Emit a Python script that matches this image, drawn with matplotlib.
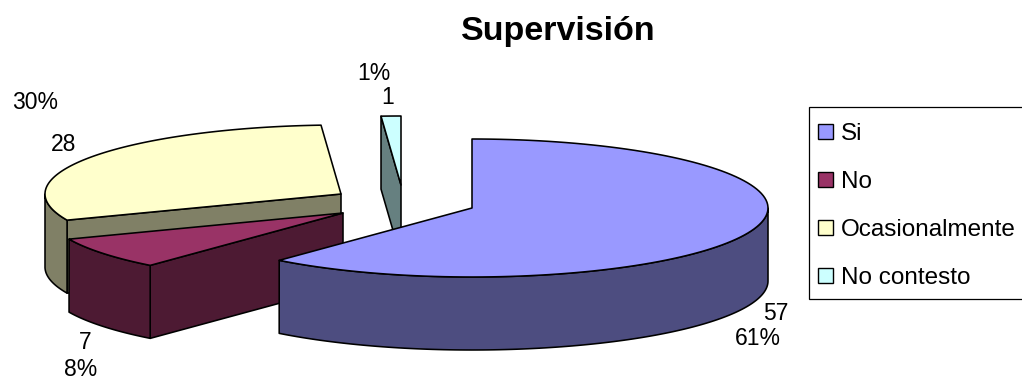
import numpy as np
import matplotlib
matplotlib.use("Agg")
import matplotlib.pyplot as plt
from matplotlib.patches import Polygon, Patch, Rectangle

categories = ["Si", "No", "Ocasionalmente", "No contesto"]
values = [57, 7, 28, 1]
top_colors = ["#9999FF", "#993366", "#FFFFCC", "#CCFFFF"]
side_colors = ["#4D4D80", "#4D1A33", "#808066", "#668080"]

# Layout of the exploded pie, in pixels
slice_centers = [(472, 208), (343, 213), (341, 194), (401, 185)]
count_label_pos = [(776, 313.5), (85, 342.5), (64, 144.5), (388, 97.5)]
percent_label_pos = [(758, 338.5), (81, 370), (35, 102.5), (374, 73.5)]
RX, RY, DEPTH = 296, 69, 73
LINE = 1.15

plt.rcParams["font.family"] = ["Liberation Sans", "DejaVu Sans"]
fig = plt.figure(figsize=(10.22, 3.81), dpi=100)
ax = fig.add_axes([0, 0, 1, 1])
ax.set_xlim(0, 1022)
ax.set_ylim(381, 0)
ax.axis("off")


def rim(center, a, b, n=120):
    """Points on the top rim between clockwise-from-north angles a and b (degrees)."""
    t = np.radians(np.linspace(a, b, n))
    return np.column_stack([center[0] + RX * np.sin(t), center[1] - RY * np.cos(t)])


def draw_slice(center, a, b, top, side, z):
    cx, cy = center
    down = np.array([0, DEPTH])
    kw = dict(edgecolor="black", linewidth=LINE, joinstyle="round", zorder=z)

    # Cut face at the start angle, visible when it turns toward the viewer
    if np.sin(np.radians(a)) < -1e-6:
        p = rim(center, a, a, 1)[0]
        ax.add_patch(Polygon([(cx, cy), p, p + down, (cx, cy + DEPTH)], facecolor=side, **kw))

    # Outer wall, only along the front half of the rim
    lo, hi = max(a, 90), min(b, 270)
    if hi > lo:
        edge = rim(center, lo, hi)
        ax.add_patch(Polygon(np.vstack([edge, edge[::-1] + down]), facecolor=side, **kw))

    # Top face
    ax.add_patch(Polygon(np.vstack([[center], rim(center, a, b)]), facecolor=top, **kw))


total = sum(values)
edges = np.concatenate([[0], np.cumsum(values)]) / total * 360

# Back slices first so the front ones overlap them
draw_order = [2, 3, 1, 0]
for z, i in enumerate(draw_order):
    draw_slice(slice_centers[i], edges[i], edges[i + 1], top_colors[i], side_colors[i], 2 + z)

for v, cp, pp in zip(values, count_label_pos, percent_label_pos):
    ax.text(*cp, f"{v}", fontsize=16.5, ha="center", va="center", color="black", zorder=10)
    ax.text(*pp, f"{round(v / total * 100)}%", fontsize=16.5, ha="center", va="center", color="black", zorder=10)

ax.text(558, 40, "Supervisión", fontsize=24.5, fontweight="bold", ha="center", va="baseline", color="black")

# Legend box runs off the right edge of the figure
ax.add_patch(Rectangle((809, 107), 300, 192, facecolor="white", edgecolor="black", linewidth=0.9, zorder=15))
handles = [Patch(facecolor=c, edgecolor="black", linewidth=1.0) for c in top_colors]
leg = ax.legend(
    handles, categories,
    loc="upper left", bbox_to_anchor=(809, 114), bbox_transform=ax.transData,
    borderaxespad=0, fontsize=17.5, frameon=False, handlelength=0.62, handleheight=0.62,
    handletextpad=0.33, labelspacing=1.07, borderpad=0.37,
)
leg.set_zorder(20)

fig.savefig("out.png", dpi=100, facecolor="white")
